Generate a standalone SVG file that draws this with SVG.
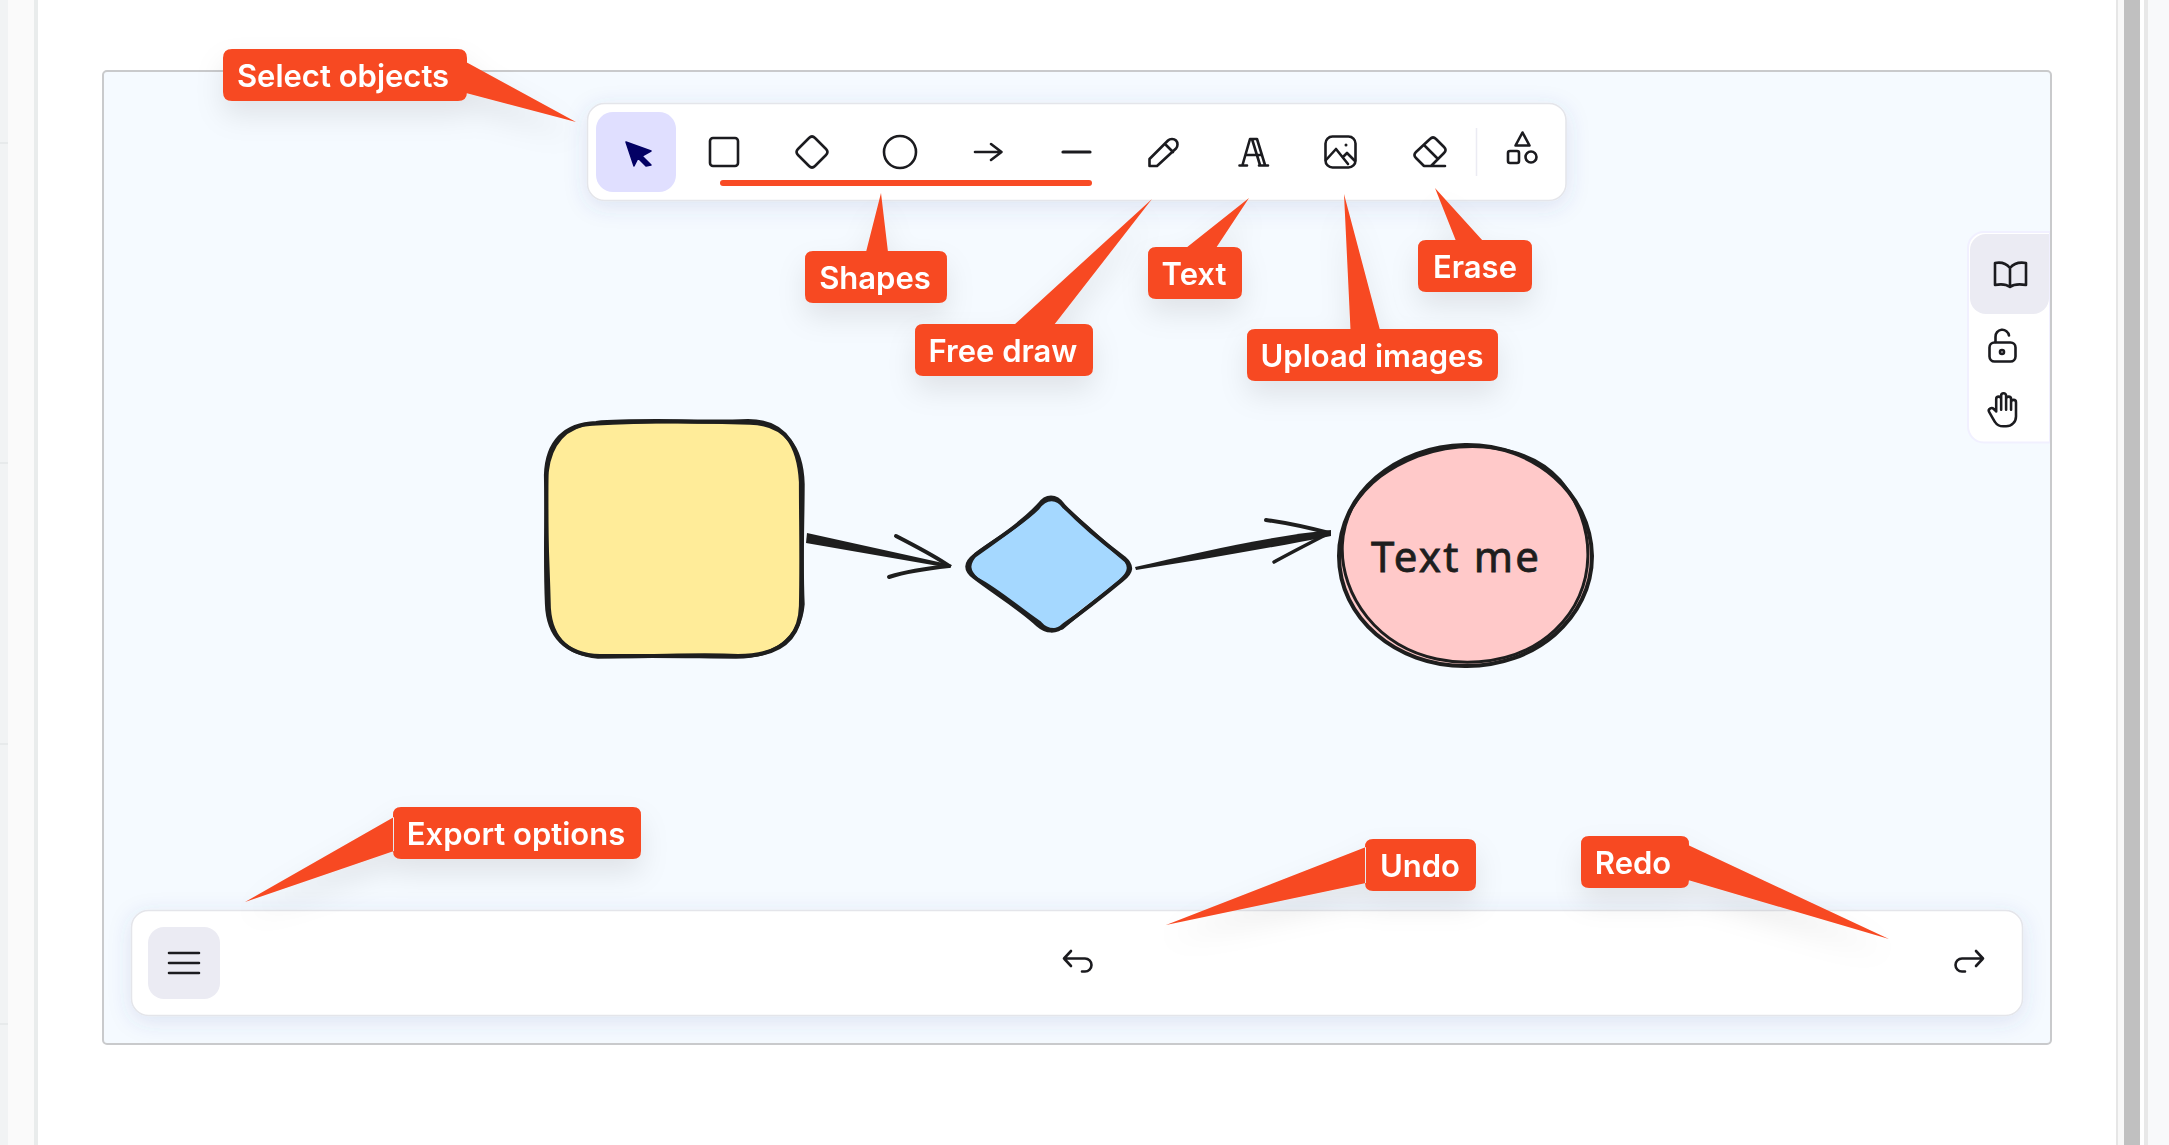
<svg xmlns="http://www.w3.org/2000/svg" width="2169" height="1145" viewBox="0 0 2169 1145">
<style>
.ic{fill:none;stroke:#1b1b1f;stroke-width:2.6;stroke-linecap:round;stroke-linejoin:round}
.lb{fill:#f74a24}
.lt{fill:#fff;font-family:"Inter","Liberation Sans",sans-serif;font-size:31px;font-weight:600;text-anchor:middle}
.ink{fill:none;stroke:#1e1e1e;stroke-linecap:round;stroke-linejoin:round}
.panel{fill:#fff;stroke:#e4e5ea;stroke-width:1.5}
</style>
<defs>
<filter id="ls" x="-40%" y="-60%" width="180%" height="260%"><feDropShadow dx="0" dy="14" stdDeviation="14" flood-color="#000" flood-opacity="0.09"/></filter>
<filter id="ps" x="-5%" y="-30%" width="110%" height="170%"><feDropShadow dx="0" dy="5" stdDeviation="11" flood-color="#3c55a0" flood-opacity="0.14"/></filter>
</defs>
<rect width="2169" height="1145" fill="#fff"/>
<g id="page-chrome">
<rect x="0" y="0" width="8" height="1145" fill="#f1f3f4"/>
<rect x="8" y="0" width="26" height="1145" fill="#fafafa"/>
<rect x="34" y="0" width="4" height="1145" fill="#e9ecec"/>
<path d="M0 143H8M0 463H8M0 744H8M0 1024H8" stroke="#e4e7e8" stroke-width="1.5"/>
<rect x="2116" y="0" width="2" height="1145" fill="#e6e6e6"/>
<rect x="2118" y="0" width="6" height="1145" fill="#f8f8f8"/>
<rect x="2124" y="0" width="16" height="1145" fill="#c0c0c0"/>
<rect x="2144" y="0" width="4" height="1145" fill="#e8e8e8"/>
<rect x="2148" y="0" width="21" height="1145" fill="#f8f9fa"/>
</g>
<g id="canvas">
<rect x="103" y="71" width="1948" height="973" rx="4" fill="#f5faff"/>
</g>
<g id="yellow-rectangle">
<path d="M596 422C640 420 700 423 748 421C785 422 800 447 802 482C802 520 803 560 801 606C799 642 776 657 738 657C700 655 650 658 600 656C566 655 548 636 547 604C546 560 547 520 547 475C548 442 565 424 596 422Z" fill="#ffec99"/>
<path class="ink" stroke-width="4.200" d="M596 423C640 419 700 423 748 421C785 421 799 445 801 482C801 520 802 560 801 606C800 642 776 656 738 656C700 654 650 657 600 656C566 655 548 636 547 604C545 560 547 520 546 475C547 442 565 424 596 423Z"/>
<path class="ink" stroke-width="3.400" d="M592 424C640 421 700 421 750 423C786 424 802 448 803 484C803 520 801 560 803 604C800 640 774 657 736 657C700 657 650 655 598 657C564 654 549 634 549 602C548 560 545 520 547 472C550 444 566 425 592 424Z"/>
</g>
<g id="blue-diamond">
<path d="M1040 504C1047 495 1055 495 1062 504L1122 556C1132 565 1132 570 1122 578L1062 624C1055 632 1047 632 1040 624L976 578C966 570 966 564 976 556Z" fill="#a5d8ff"/>
<path class="ink" stroke-width="4" d="M1039 505C1046 495 1056 495 1063 505C1080 523 1100 540 1124 558C1133 566 1132 572 1122 580C1105 594 1085 610 1064 625C1056 633 1046 632 1038 625C1020 608 996 594 974 577C965 570 965 563 974 556C996 540 1020 525 1039 505Z"/>
<path class="ink" stroke-width="3.400" d="M1038 508C1046 497 1057 497 1064 507C1082 522 1098 538 1126 561C1131 568 1128 574 1120 581C1100 598 1085 608 1062 628C1054 631 1046 630 1040 623C1018 608 998 590 977 579C968 571 967 564 976 554C998 538 1022 524 1038 508Z"/>
</g>
<g id="pink-circle">
<ellipse cx="1465.500" cy="556" rx="126" ry="110" fill="#ffc9c9"/>
<path class="ink" stroke-width="4" d="M1465 445C1535 444 1591 494 1592 556C1592 618 1535 667 1465 666C1396 666 1339 618 1339 556C1339 494 1396 446 1465 445Z"/>
<path class="ink" stroke-width="3" d="M1418 456C1470 438 1530 446 1560 480C1598 525 1598 590 1555 630C1515 668 1445 672 1398 644C1350 615 1328 555 1352 508C1368 482 1390 467 1418 456Z"/>
<text x="1371" y="572" font-family="'Noto Sans','DejaVu Sans',sans-serif" font-size="42" fill="#1e1e1e" stroke="#1e1e1e" stroke-width="0.800" textLength="168" lengthAdjust="spacing">Text me</text>
</g>
<g id="connectors">
<path d="M807 533L952 565L950 568L806 543Z" fill="#1e1e1e"/>
<path class="ink" stroke-width="4" d="M896 536C915 546 935 556 949 566"/>
<path class="ink" stroke-width="4" d="M889 577C908 571 930 568 949 566"/>
<path d="M1135 567C1200 552 1270 536 1331 530L1331 536C1270 548 1200 560 1136 570Z" fill="#1e1e1e"/>
<path class="ink" stroke-width="4" d="M1266 520C1288 523 1310 528 1329 533"/>
<path class="ink" stroke-width="3.600" d="M1274 562C1292 552 1312 542 1329 533"/>
</g>
<g id="toolbar">
<rect class="panel" x="587.500" y="103.500" width="978.500" height="97" rx="17" filter="url(#ps)"/>
<rect x="596" y="112" width="80" height="80" rx="17" fill="#e0dfff"/>
<path d="M626 142L651 151L642 156L651 165L646 166L638 158L634 166Z" fill="#030064" stroke="#030064" stroke-width="1.500" stroke-linejoin="round"/>
<rect class="ic" x="710" y="138" width="28" height="28" rx="3"/>
<path class="ic" d="M809 138C811 136 813 136 815 138L826 149C828 151 828 153 826 155L815 166C813 168 811 168 809 166L798 155C796 153 796 151 798 149Z"/>
<circle class="ic" cx="900" cy="152" r="16"/>
<path class="ic" d="M975 152H1001M991 144L1001.500 152L991 160"/>
<path d="M1063 152H1090" fill="none" stroke="#1b1b1f" stroke-width="3.200" stroke-linecap="round"/>
<path class="ic" d="M1149.500 166V159L1168 140.500C1170 138.500 1174 138.500 1176 140.500C1178 142.500 1178 146.500 1176 148.500L1157 166ZM1165 144L1173 152"/>
<path class="ic" d="M1239.500 165.500H1247M1259 165.500H1268M1242.500 165L1250 139H1257L1265 165M1252 139L1260 165M1245.500 155H1261"/>
<rect class="ic" x="1325.500" y="136.500" width="30" height="31" rx="7"/>
<path class="ic" d="M1326 160L1336 149L1348 164M1343 157L1347 153L1355 161"/>
<circle cx="1346" cy="145" r="1.500" fill="#1b1b1f"/>
<path class="ic" d="M1424 166L1416 158C1414 156 1414 154 1416 152L1430 139C1432 137 1434 137 1436 139L1444 147C1446 149 1446 151 1444 153L1431 166ZM1424 145L1438 159M1424 166H1445"/>
<path d="M1476.500 128V176" stroke="#ebebf3" stroke-width="1.500"/>
<path class="ic" d="M1522.500 132.500L1529.500 145.500H1515.500Z"/>
<rect class="ic" x="1508" y="151" width="11" height="12" rx="2"/>
<circle class="ic" cx="1531" cy="157" r="5.500"/>
<rect x="720" y="180" width="372" height="6" rx="3" fill="#f84b25"/>
</g>
<g id="side-panel">
<path d="M2050 232H1984A16 16 0 0 0 1968 248V426A16 16 0 0 0 1984 442.500H2050Z" fill="#fff" stroke="#f1f0ff" stroke-width="2"/>
<path d="M2049 234H1986A16 16 0 0 0 1970 250V298A16 16 0 0 0 1986 314H2033A16 16 0 0 0 2049 298Z" fill="#ebebf3"/>
<path class="ic" d="M2010 268C2006 263 2000 262 1995 263V285C2000 284 2006 284 2010 287C2014 284 2020 284 2026 285V263C2020 262 2014 263 2010 268ZM2010 268V286"/>
<rect class="ic" x="1989.500" y="342.500" width="26" height="19" rx="5"/>
<circle class="ic" cx="2002" cy="352" r="2"/>
<path class="ic" d="M1995.500 342V337A6.800 6.800 0 0 1 2009 335.500"/>
<path class="ic" transform="translate(1983 390) scale(1.65)" style="stroke-width:1.550" d="M8 13v-7.500a1.500 1.500 0 0 1 3 0v6.500M11 5.500v-2a1.500 1.500 0 1 1 3 0v8.500M14 5.500a1.500 1.500 0 0 1 3 0v6.500M17 7.500a1.500 1.500 0 0 1 3 0v8.500a6 6 0 0 1 -6 6h-2h.208a6 6 0 0 1 -5.012 -2.700a69.740 69.740 0 0 1 -.196 -.300c-.312 -.479 -1.407 -2.388 -3.286 -5.728a1.500 1.500 0 0 1 .536 -2.022a1.867 1.867 0 0 1 2.280 .280l1.470 1.470"/>
</g>
<g id="bottom-bar">
<rect class="panel" x="131.500" y="910.500" width="1891" height="105" rx="17" filter="url(#ps)"/>
<rect x="148" y="927" width="72" height="72" rx="16" fill="#ebebf3"/>
<path d="M169 953H199M169 963H199M169 973H199" stroke="#1b1b1f" stroke-width="2.600" stroke-linecap="round"/>
<path class="ic" d="M1071 951L1064 958.500L1071 966M1064 958.500H1085A6.500 6.500 0 0 1 1085 971.500H1082"/>
<path class="ic" d="M1976 951L1983 958.500L1976 966M1983 958.500H1962A6.500 6.500 0 0 0 1962 971.500H1965"/>
</g>
<rect id="canvas-border" x="103" y="71" width="1948" height="973" rx="4" fill="none" stroke="#c9cacc" stroke-width="2"/>
<g id="label-select-objects" filter="url(#ls)">
<path class="lb" d="M232 49H458Q467 49 467 58V92Q467 101 458 101H232Q223 101 223 92V58Q223 49 232 49ZM466 62L576 122L466 93Z"/>
<text class="lt" x="343" y="87">Select objects</text>
</g>
<g id="label-shapes" filter="url(#ls)">
<path class="lb" d="M813 251H939Q947 251 947 259V295Q947 303 939 303H813Q805 303 805 295V259Q805 251 813 251ZM866 252L881 193L888 252Z"/>
<text class="lt" x="875" y="289">Shapes</text>
</g>
<g id="label-free-draw" filter="url(#ls)">
<path class="lb" d="M923 324H1085Q1093 324 1093 332V368Q1093 376 1085 376H923Q915 376 915 368V332Q915 324 923 324ZM1014 325L1152 199L1054 325Z"/>
<text class="lt" x="1003" y="362">Free draw</text>
</g>
<g id="label-text" filter="url(#ls)">
<path class="lb" d="M1156 247H1234Q1242 247 1242 255V291Q1242 299 1234 299H1156Q1148 299 1148 291V255Q1148 247 1156 247ZM1186 248L1249 198L1216 248Z"/>
<text class="lt" x="1194" y="285">Text</text>
</g>
<g id="label-upload-images" filter="url(#ls)">
<path class="lb" d="M1255 329H1490Q1498 329 1498 337V373Q1498 381 1490 381H1255Q1247 381 1247 373V337Q1247 329 1255 329ZM1350.500 330L1344 194L1380 330Z"/>
<text class="lt" x="1372" y="367">Upload images</text>
</g>
<g id="label-erase" filter="url(#ls)">
<path class="lb" d="M1426 240H1524Q1532 240 1532 248V284Q1532 292 1524 292H1426Q1418 292 1418 284V248Q1418 240 1426 240ZM1456 241L1435 188L1483 241Z"/>
<text class="lt" x="1475" y="278">Erase</text>
</g>
<g id="label-export-options" filter="url(#ls)">
<path class="lb" d="M401 807H633Q641 807 641 815V851Q641 859 633 859H401Q393 859 393 851V815Q393 807 401 807ZM394 817L245 902L394 851Z"/>
<text class="lt" x="516" y="845">Export options</text>
</g>
<g id="label-undo" filter="url(#ls)">
<path class="lb" d="M1373 839H1468Q1476 839 1476 847V883Q1476 891 1468 891H1373Q1365 891 1365 883V847Q1365 839 1373 839ZM1366 847L1166 925L1366 883Z"/>
<text class="lt" x="1420" y="877">Undo</text>
</g>
<g id="label-redo" filter="url(#ls)">
<path class="lb" d="M1589 836H1681Q1689 836 1689 844V880Q1689 888 1681 888H1589Q1581 888 1581 880V844Q1581 836 1589 836ZM1688 845L1889 939L1688 880Z"/>
<text class="lt" x="1633" y="874">Redo</text>
</g>
</svg>
